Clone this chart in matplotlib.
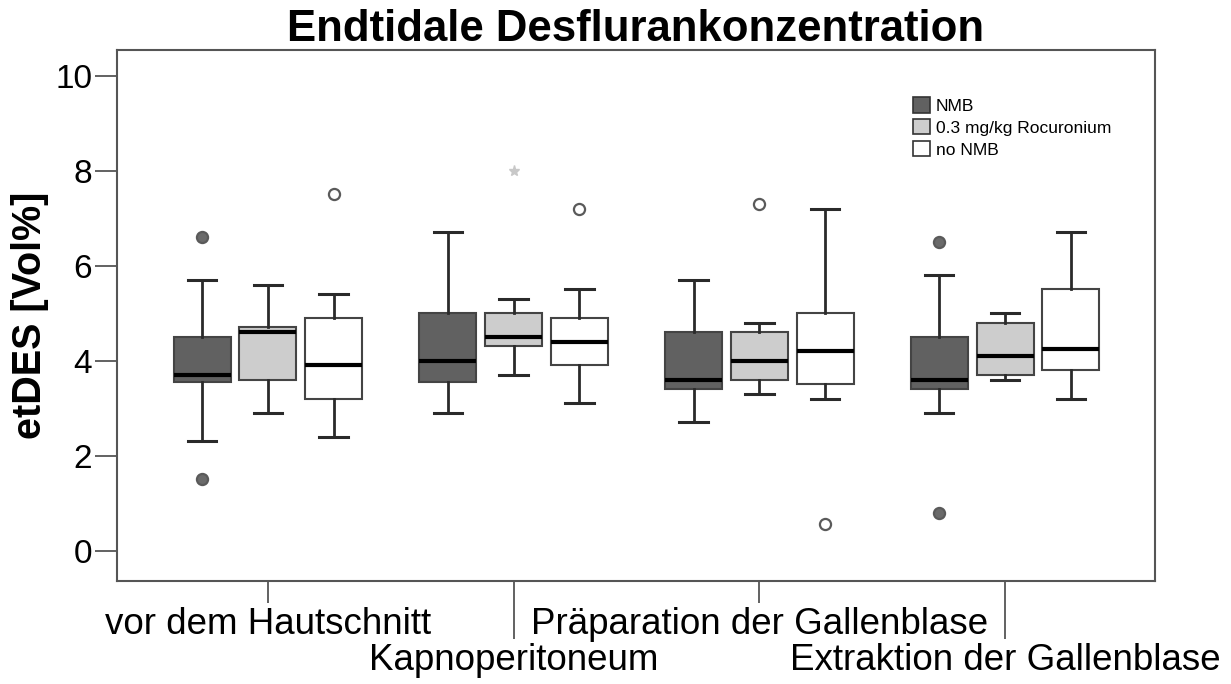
import numpy as np
import matplotlib.pyplot as plt
from matplotlib.patches import Patch

plt.rcParams['font.family'] = ['Liberation Sans', 'DejaVu Sans']

phases = ["vor dem Hautschnitt", "Kapnoperitoneum",
          "Präparation der Gallenblase", "Extraktion der Gallenblase"]
groups = ["NMB", "0.3 mg/kg Rocuronium", "no NMB"]

# Kennwerte je Phase: Whisker unten, Q1, Median, Q3, Whisker oben
nmb_low = [2.3, 2.9, 2.7, 2.9]
nmb_q1 = [3.55, 3.55, 3.4, 3.4]
nmb_med = [3.7, 4.0, 3.6, 3.6]
nmb_q3 = [4.5, 5.0, 4.6, 4.5]
nmb_high = [5.7, 6.7, 5.7, 5.8]
nmb_out = [[6.6, 1.5], [], [], [6.5, 0.8]]
nmb_ext = [[], [], [], []]

roc_low = [2.9, 3.7, 3.3, 3.6]
roc_q1 = [3.6, 4.3, 3.6, 3.7]
roc_med = [4.6, 4.5, 4.0, 4.1]
roc_q3 = [4.7, 5.0, 4.6, 4.8]
roc_high = [5.6, 5.3, 4.8, 5.0]
roc_out = [[], [], [7.3], []]
roc_ext = [[], [8.0], [], []]

no_low = [2.4, 3.1, 3.2, 3.2]
no_q1 = [3.2, 3.9, 3.5, 3.8]
no_med = [3.9, 4.4, 4.2, 4.25]
no_q3 = [4.9, 4.9, 5.0, 5.5]
no_high = [5.4, 5.5, 7.2, 6.7]
no_out = [[7.5], [7.2], [0.55], []]
no_ext = [[], [], [], []]

series = [
    (nmb_low, nmb_q1, nmb_med, nmb_q3, nmb_high, nmb_out, nmb_ext),
    (roc_low, roc_q1, roc_med, roc_q3, roc_high, roc_out, roc_ext),
    (no_low, no_q1, no_med, no_q3, no_high, no_out, no_ext),
]
box_colors = ["#616161", "#cdcdcd", "#ffffff"]
flier_faces = ["#6a6a6a", "#ffffff", "#ffffff"]
offsets = [-0.268, 0.0, 0.268]
width = 0.232

fig = plt.figure(figsize=(12.31, 6.84), dpi=100)
ax = fig.add_axes([117 / 1231, 1 - 581 / 684, (1155 - 117) / 1231, (581 - 50) / 684])

x = np.arange(len(phases))
for k, (lo, q1, med, q3, hi, out, ext) in enumerate(series):
    stats = []
    for i in range(len(phases)):
        stats.append(dict(whislo=lo[i], q1=q1[i], med=med[i], q3=q3[i],
                          whishi=hi[i], fliers=out[i]))
    ax.bxp(stats, positions=x + offsets[k], widths=width, capwidths=width / 2,
           patch_artist=True, manage_ticks=False,
           boxprops=dict(facecolor=box_colors[k], edgecolor="#444444", linewidth=1.5),
           medianprops=dict(color="black", linewidth=3),
           whiskerprops=dict(color="#2a2a2a", linewidth=2),
           capprops=dict(color="#2a2a2a", linewidth=2.2),
           flierprops=dict(marker="o", markersize=8, markerfacecolor=flier_faces[k],
                           markeredgecolor="#5a5a5a", markeredgewidth=1.6))
    for i in range(len(phases)):
        if ext[i]:
            ax.plot([x[i] + offsets[k]] * len(ext[i]), ext[i], linestyle="none",
                    marker="*", markersize=8, color="#c8c8c8")

ax.set_xlim(-0.614, 3.61)
ax.set_ylim(-0.64, 10.54)

for s in ax.spines.values():
    s.set_color("#555555")
    s.set_linewidth(1.5)

ax.set_yticks([0, 2, 4, 6, 8, 10])
ax.tick_params(axis="y", length=16, width=1.3, color="#555555", labelsize=24, pad=2)

ax.set_xticks([0, 2])
ax.set_xticklabels([phases[0], phases[2]])
ax.set_xticks([1, 3], minor=True)
ax.set_xticklabels([phases[1], phases[3]], minor=True)
ax.tick_params(axis="x", which="major", length=16, width=1.3, color="#555555",
               labelsize=26.5, pad=3)
ax.tick_params(axis="x", which="minor", length=42, width=1.3, color="#555555",
               labelsize=26.5, pad=3)

ax.set_title("Endtidale Desflurankonzentration", fontsize=31.5, fontweight="bold", pad=4)
ax.set_ylabel("etDES [Vol%]", fontsize=28.5, fontweight="bold", labelpad=4)

handles = [Patch(facecolor=c, edgecolor="#333333", linewidth=1.2) for c in box_colors]
fig.legend(handles, groups, loc="upper left", bbox_to_anchor=(913 / 1231, 1 - 97 / 684),
           frameon=False, fontsize=12.5, handlelength=1.0, handleheight=1.0,
           handletextpad=0.3, labelspacing=0.3, borderpad=0, borderaxespad=0)

fig.savefig("out.png", dpi=100)
